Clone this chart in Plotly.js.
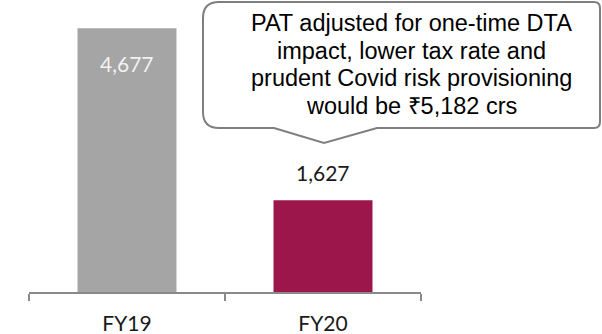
<!DOCTYPE html>
<html>
<head>
<meta charset="utf-8">
<script src="https://cdn.plot.ly/plotly-3.0.1.min.js"></script>
<style>
  html, body { margin: 0; padding: 0; background: #ffffff; }
  #chart { width: 602px; height: 334px; }
</style>
</head>
<body>
<div id="chart"></div>
<script>
// Profit after tax, ₹ crore
const years = ['FY19', 'FY20'];
const patValues = [4677, 1627];
const valueLabels = ['4,677', '1,627'];
const barColors = ['#a5a5a5', '#9c164c'];
const calloutLines = [
  'PAT adjusted for one-time DTA',
  'impact, lower tax rate and',
  'prudent Covid risk provisioning',
  'would be ₹5,182 crs'
];

// Plot area in page pixels
const W = 602, H = 334;
const L = 29, R = 421, T = 10, B = 292;
const px = X => (X - L) / (R - L);
const py = Y => (B - Y) / (B - T);

// Speech-bubble outline, built in pixel space then mapped to paper space
function bubblePath() {
  const x0 = 203, x1 = 600, y0 = 2, y1 = 128, r = 16, r2 = 6;
  const tailL = 274, tailTip = [324, 143], tailR = 377;
  const pts = [
    ['M', [x0 + r, y0]],
    ['L', [x1 - r2, y0]],
    ['Q', [x1, y0], [x1, y0 + r2]],
    ['L', [x1, y1 - r2]],
    ['Q', [x1, y1], [x1 - r2, y1]],
    ['L', [tailR, y1]],
    ['L', tailTip],
    ['L', [tailL, y1]],
    ['L', [x0 + r, y1]],
    ['Q', [x0, y1], [x0, y1 - r]],
    ['L', [x0, y0 + r]],
    ['Q', [x0, y0], [x0 + r, y0]]
  ];
  return pts.map(p => p[0] + ' ' + p.slice(1).map(q => px(q[0]).toFixed(5) + ',' + py(q[1]).toFixed(5)).join(' ')).join(' ') + ' Z';
}

const trace = {
  type: 'bar',
  x: years,
  y: patValues,
  marker: { color: barColors },
  hoverinfo: 'skip',
  width: 0.505
};

const labelShift = [-35, 28];
const labelColors = ['#f2f2f2', '#1a1a1a'];
const annotations = years.map((yr, i) => ({
  x: yr, y: patValues[i], xref: 'x', yref: 'y',
  text: valueLabels[i], showarrow: false,
  yanchor: 'middle', yshift: labelShift[i],
  font: { family: 'Lato, sans-serif', size: 21, color: labelColors[i] }
}));

// Callout text, one annotation per line for tighter leading
const calloutSize = 23.5;
const firstBaseline = 31, leading = 27.7;
calloutLines.forEach((line, i) => {
  const baseline = firstBaseline + i * leading;
  annotations.push({
    xref: 'paper', yref: 'paper',
    x: px(411), y: py(baseline - 0.3465 * calloutSize),
    xanchor: 'center', yanchor: 'middle',
    text: line, showarrow: false,
    font: { family: 'Liberation Sans, Arial, sans-serif', size: calloutSize, color: '#000000' }
  });
});

const layout = {
  width: W, height: H,
  margin: { l: L, r: W - R, t: T, b: H - B, pad: 0 },
  paper_bgcolor: '#ffffff',
  plot_bgcolor: '#ffffff',
  showlegend: false,
  bargap: 0.495,
  xaxis: {
    type: 'category',
    tickson: 'boundaries',
    ticks: 'outside', ticklen: 7, tickwidth: 1.5, tickcolor: '#898989',
    showline: true, linecolor: '#898989', linewidth: 1.5,
    showgrid: false, zeroline: false,
    tickfont: { family: 'Lato, sans-serif', size: 21, color: '#1a1a1a' },
    ticklabelstandoff: 12,
    fixedrange: true
  },
  yaxis: {
    range: [0, 5000],
    visible: false,
    showgrid: false, zeroline: false,
    fixedrange: true
  },
  shapes: [{
    type: 'path', xref: 'paper', yref: 'paper',
    path: bubblePath(),
    fillcolor: '#ffffff',
    line: { color: '#7f7f7f', width: 2 },
    layer: 'above'
  }],
  annotations: annotations
};

Plotly.newPlot('chart', [trace], layout, { displayModeBar: false, staticPlot: true });
</script>
</body>
</html>
